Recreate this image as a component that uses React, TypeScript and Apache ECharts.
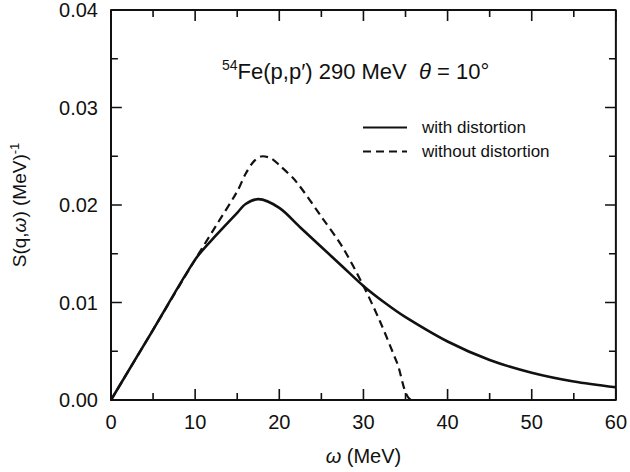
import React, { useEffect, useRef } from "react";
import * as echarts from "echarts";

// ω (MeV) sample points and S(q,ω) (MeV)^-1 values
const omegaWith = [0, 5, 10, 12.5, 15, 16, 17.5, 20, 22.5, 25, 27.5, 30, 32.5, 35, 40, 45, 50, 55, 60];
const sWith = [0, 0.0072, 0.0144, 0.0169, 0.0192, 0.0201, 0.0206, 0.0197, 0.0177, 0.0157, 0.0137, 0.0117, 0.0100, 0.0085, 0.0060, 0.0041, 0.0028, 0.0019, 0.0013];

const omegaWithout = [0, 5, 10, 12.5, 15, 16, 17, 18, 19, 20, 22, 25, 27.5, 30, 32, 34, 35.8, 40, 50, 60];
const sWithout = [0, 0.0072, 0.0144, 0.0179, 0.0214, 0.0232, 0.0245, 0.0250, 0.0248, 0.0241, 0.0224, 0.0188, 0.0157, 0.0117, 0.0080, 0.0038, 0, 0, 0, 0];

const seriesNames = ["with distortion", "without distortion"];
const xMajorTicks = [0, 10, 20, 30, 40, 50, 60];
const xMinorTicks = [5, 15, 25, 35, 45, 55];
const yMajorTicks = [0, 0.01, 0.02, 0.03, 0.04];
const yMinorTicks = [0.005, 0.015, 0.025, 0.035];

const FONT = "Liberation Sans, Arial, sans-serif";
const INK = "#111111";
const X_MIN = xMajorTicks[0];
const X_MAX = xMajorTicks[xMajorTicks.length - 1];
const Y_MIN = yMajorTicks[0];
const Y_MAX = yMajorTicks[yMajorTicks.length - 1];
const GRID = { left: 106, top: 10, right: 12, bottom: 72 };
const W = 630;
const H = 472;
const MAJOR_LEN = 11;
const MINOR_LEN = 7;

export default function App() {
  const ref = useRef<HTMLDivElement>(null);
  useEffect(() => {
    if (!ref.current) return;
    const chart = echarts.init(ref.current, undefined, { renderer: "svg" });
    const gridW = W - GRID.left - GRID.right;
    const gridH = H - GRID.top - GRID.bottom;
    const pxToX = (p: number) => (p * (X_MAX - X_MIN)) / gridW;
    const pxToY = (p: number) => (p * (Y_MAX - Y_MIN)) / gridH;
    const gap = ["-", "-"];
    const tickSegs: any[] = [];
    const addX = (v: number, len: number) => {
      tickSegs.push([v, Y_MIN], [v, Y_MIN + pxToY(len)], gap);
      tickSegs.push([v, Y_MAX], [v, Y_MAX - pxToY(len)], gap);
    };
    const addY = (v: number, len: number) => {
      tickSegs.push([X_MIN, v], [X_MIN + pxToX(len), v], gap);
      tickSegs.push([X_MAX, v], [X_MAX - pxToX(len), v], gap);
    };
    xMajorTicks.forEach((v) => addX(v, MAJOR_LEN));
    xMinorTicks.forEach((v) => addX(v, MINOR_LEN));
    yMajorTicks.forEach((v) => addY(v, MAJOR_LEN));
    yMinorTicks.forEach((v) => addY(v, MINOR_LEN));

    chart.setOption({
      animation: false,
      grid: { ...GRID },
      title: {
        text: "{sup|54}{n|Fe(p,p′) 290 MeV  }{i|θ}{n| = 10°}",
        left: 222,
        top: 58,
        padding: 0,
        textStyle: {
          color: INK,
          fontSize: 22,
          fontFamily: FONT,
          fontWeight: "normal",
          rich: {
            n: { fontSize: 22, fontFamily: FONT, color: INK },
            i: { fontSize: 22, fontFamily: FONT, fontStyle: "italic", color: INK },
            sup: { fontSize: 14, fontFamily: FONT, color: INK, padding: [0, 0, 12, 0] },
          },
        },
      },
      xAxis: {
        type: "value",
        min: X_MIN,
        max: X_MAX,
        interval: 10,
        axisLine: { show: true, lineStyle: { color: INK, width: 2 } },
        axisTick: { show: false },
        splitLine: { show: false },
        axisLabel: { color: INK, fontSize: 20, fontFamily: FONT, margin: 12 },
        name: "{i|ω} (MeV)",
        nameLocation: "middle",
        nameGap: 46,
        nameTextStyle: {
          color: INK,
          fontSize: 20,
          fontFamily: FONT,
          rich: { i: { fontStyle: "italic", fontSize: 20, fontFamily: FONT, color: INK } },
        },
      },
      yAxis: {
        type: "value",
        min: Y_MIN,
        max: Y_MAX,
        interval: 0.01,
        axisLine: { show: true, lineStyle: { color: INK, width: 2 } },
        axisTick: { show: false },
        splitLine: { show: false },
        axisLabel: {
          color: INK,
          fontSize: 20,
          fontFamily: FONT,
          margin: 13,
          formatter: (v: number) => v.toFixed(2),
        },
        name: "S(q,{i|ω}) (MeV){sup|-1}",
        nameLocation: "middle",
        nameGap: 80,
        nameRotate: 90,
        nameTextStyle: {
          color: INK,
          fontSize: 19,
          fontFamily: FONT,
          rich: {
            i: { fontStyle: "italic", fontSize: 19, fontFamily: FONT, color: INK },
            sup: { fontSize: 13, fontFamily: FONT, color: INK, padding: [0, 0, 10, 0] },
          },
        },
      },
      legend: {
        show: true,
        orient: "vertical",
        left: 357,
        top: 114,
        itemWidth: 44,
        itemHeight: 14,
        itemGap: 7,
        data: seriesNames,
        itemStyle: { opacity: 0 },
        textStyle: { color: INK, fontSize: 17, fontFamily: FONT, padding: [0, 0, 0, 10] },
      },
      series: [
        {
          name: seriesNames[0],
          type: "line",
          data: omegaWith.map((x, i) => [x, sWith[i]]),
          symbol: "none",
          smooth: 0.3,
          lineStyle: { color: INK, width: 2.6, type: "solid" },
          itemStyle: { color: INK },
        },
        {
          name: seriesNames[1],
          type: "line",
          data: omegaWithout.map((x, i) => [x, sWithout[i]]),
          symbol: "none",
          smooth: 0.3,
          lineStyle: { color: INK, width: 2.2, type: [8, 5] },
          itemStyle: { color: INK },
        },
        {
          name: "frame",
          type: "line",
          data: [
            [X_MIN, Y_MAX],
            [X_MAX, Y_MAX],
            [X_MAX, Y_MIN],
          ],
          symbol: "none",
          clip: false,
          silent: true,
          lineStyle: { color: INK, width: 2, type: "solid" },
        },
        {
          name: "ticks",
          type: "line",
          data: tickSegs,
          symbol: "none",
          clip: false,
          silent: true,
          connectNulls: false,
          lineStyle: { color: INK, width: 1.6, type: "solid" },
        },
      ],
    });
    return () => chart.dispose();
  }, []);
  return <div ref={ref} style={{ width: W, height: H, position: "absolute", left: 0, top: 0 }} />;
}
